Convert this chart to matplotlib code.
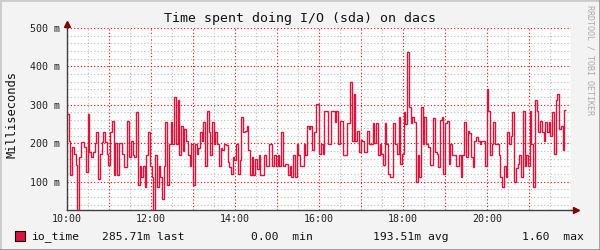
import matplotlib
matplotlib.use("Agg")
import matplotlib.pyplot as plt
import numpy as np
from matplotlib.lines import Line2D
from matplotlib.patches import Rectangle
from matplotlib.ticker import FuncFormatter, MultipleLocator

title = "Time spent doing I/O (sda) on dacs"
y_label = "Milliseconds"
watermark = "RRDTOOL / TOBI OETIKER"
series_name = "io_time"

# time axis: first sample at 10:00, one sample every 148 s
start_hour = 10.0
step_seconds = 148
x_range = (10, 22)
y_range = (26, 500)

# io_time in milli-units left to right
io_time = [
    277, 207, 118, 191, 173, 142, 27, 163, 202, 202, 189, 126, 275, 176, 165,
    176, 200, 228, 108, 171, 202, 228, 202, 171, 142, 228, 257, 116, 200, 116,
    200, 200, 171, 139, 139,
    257, 163, 207, 170, 163, 281, 90, 141, 111, 141, 85, 169, 229, 141, 111,
    27, 170, 85, 141, 111, 55, 141, 255, 90, 198, 255, 197, 320, 198, 313,
    170, 245, 180, 236, 206, 170, 141,
    197, 90, 197, 172, 188, 229, 207, 255, 141, 285, 229, 170, 255, 198, 229,
    198, 141, 188, 181, 197, 194, 150, 137, 120, 163, 155, 197, 120, 155, 268,
    229, 233, 245, 181, 116, 163, 116,
    159, 134, 170, 116, 116, 170, 141, 141, 198, 198, 141, 170, 141, 170, 141,
    229, 141, 146, 146, 116, 141, 111, 168, 111, 198, 170, 141, 141, 198, 170,
    245, 238, 245, 181, 229, 303, 303,
    172, 198, 172, 285, 285, 198, 198, 285, 285, 255, 285, 198, 257, 257, 168,
    168, 252, 252, 360, 207, 329, 207, 233, 177, 209, 207, 177, 177, 233, 198,
    198, 252, 200, 252, 168, 198, 172,
    142, 252, 198, 120, 111, 111, 252, 198, 172, 268, 146, 172, 281, 251, 438,
    295, 252, 268, 255, 98, 168, 111, 295, 198, 268, 198, 190, 142, 142, 265,
    177, 172, 137, 260, 269, 120, 252,
    259, 146, 198, 170, 170, 141, 141, 168, 111, 168, 255, 163, 233, 226, 163,
    137, 207, 216, 207, 197, 205, 205, 141, 342, 285, 170, 198, 255, 198, 198,
    170, 111, 85, 141, 111, 229, 198,
    220, 281, 100, 135, 146, 170, 111, 284, 141, 170, 141, 284, 198, 85, 313,
    284, 229, 259, 229, 206, 255, 229, 255, 220, 281, 172, 313, 329, 238, 245,
    181, 285.71,
]

legend_stats = ["285.71m last", "0.00  min", "193.51m avg", "1.60  max"]

line_color = "#DC143C"
back = "#F3F3F3"

plt.rcParams["font.family"] = "DejaVu Sans Mono"

W, H = 600, 250
fig = plt.figure(figsize=(6, 2.5), dpi=100, facecolor=back)
ax = fig.add_axes([67 / W, 40 / H, 504 / W, 182 / H])
ax.set_facecolor("white")

edges = start_hour + np.arange(len(io_time) + 1) * step_seconds / 3600.0
ax.stairs(io_time, edges, color=line_color, lw=1.0, baseline=None, zorder=3)

ax.set_xlim(*x_range)
ax.set_ylim(*y_range)

ax.xaxis.set_major_locator(MultipleLocator(1))
ax.xaxis.set_minor_locator(MultipleLocator(0.5))
ax.xaxis.set_major_formatter(FuncFormatter(
    lambda v, _: "%02d:00" % round(v) if round(v) % 2 == 0 and v < 21.5 else ""))
ax.yaxis.set_major_locator(MultipleLocator(100))
ax.yaxis.set_minor_locator(MultipleLocator(20))
ax.yaxis.set_major_formatter(FuncFormatter(lambda v, _: "%d m" % v))

ax.grid(which="major", color=(1, 0, 0, 0.35), ls=(0, (1, 2)), lw=0.8)
ax.grid(which="minor", color="#BDBDBD", ls=(0, (1, 2)), lw=0.8)
ax.set_axisbelow(True)

ax.tick_params(which="both", length=0, labelsize=7.2, colors="#222222")
ax.tick_params(axis="y", pad=5)
ax.tick_params(axis="x", pad=3)

for s in ("top", "right"):
    ax.spines[s].set_visible(False)
for s in ("left", "bottom"):
    ax.spines[s].set_color("#404040")
    ax.spines[s].set_linewidth(1.0)

# axis arrows like rrdtool
ax.plot([1, 1.012], [0, 0], color="#404040", lw=1, transform=ax.transAxes, clip_on=False)
ax.plot([0, 0], [1, 1.025], color="#404040", lw=1, transform=ax.transAxes, clip_on=False)
ax.plot(1.009, 0, marker=">", ms=4.5, color="#7F0000", transform=ax.transAxes, clip_on=False)
ax.plot(0, 1.024, marker="^", ms=4.5, color="#7F0000", transform=ax.transAxes, clip_on=False)

fig.text(0.5, 1 - 18.5 / H, title, ha="center", va="center", fontsize=9.5, color="#111111")
fig.text(12 / W, 1 - 115 / H, y_label, rotation=90, ha="center", va="center",
         fontsize=8.7, color="#111111")
fig.text(590 / W, 1 - 60 / H, watermark, rotation=270, ha="center", va="center",
         fontsize=6, color="#AAAAAA")

# legend row
fig.patches.append(Rectangle((15 / W, 1 - 241 / H), 10 / W, 10 / H, transform=fig.transFigure,
                             facecolor=line_color, edgecolor="black", lw=0.8))
legend_y = 1 - 236.5 / H
fig.text(31 / W, legend_y, series_name, ha="left", va="center", fontsize=8.2, color="#111111")
for xpos, txt in zip([102, 251, 373, 522], legend_stats):
    fig.text(xpos / W, legend_y, txt, ha="left", va="center", fontsize=8.2, color="#111111")

# 3d frame around the image
fig.lines.append(Line2D([0, 0, 1], [0, 1, 1], transform=fig.transFigure, color="#CBCBCB", lw=2))
fig.lines.append(Line2D([0, 1, 1], [0, 0, 1], transform=fig.transFigure, color="#999999", lw=2))

fig.savefig("out.png", dpi=100, facecolor=back)
